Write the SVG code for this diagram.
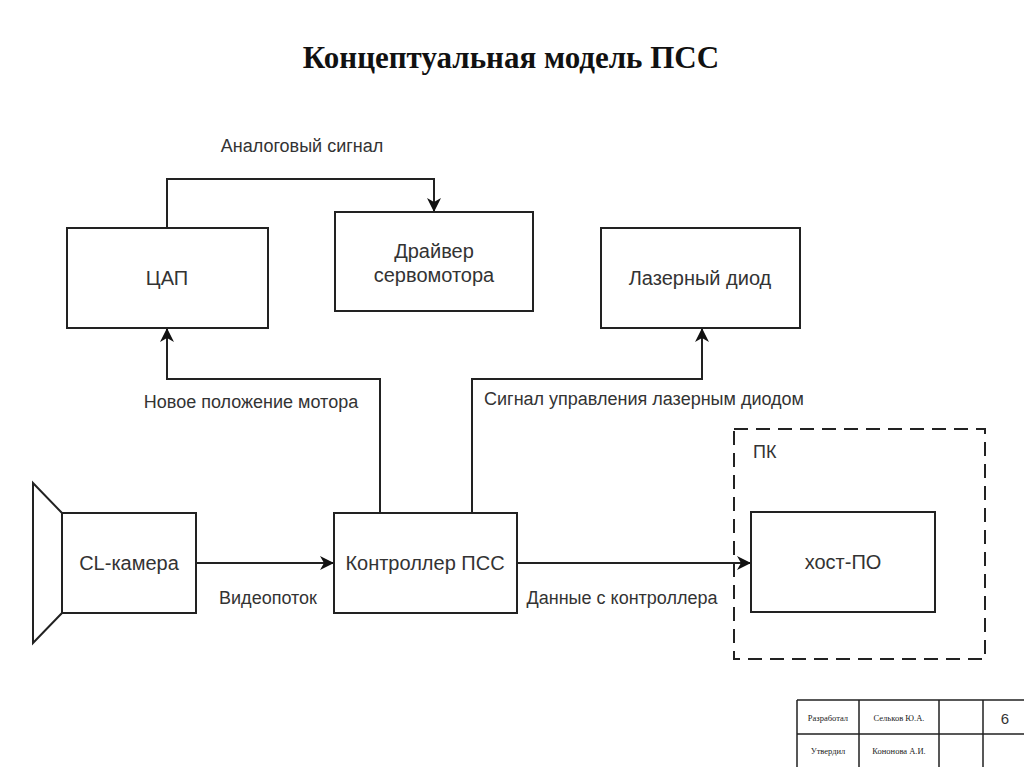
<svg xmlns="http://www.w3.org/2000/svg" width="1024" height="767" viewBox="0 0 1024 767">
<style>
.box{fill:#fff;stroke:#222;stroke-width:2}
.ln{fill:none;stroke:#222;stroke-width:2}
.t{font-family:"Liberation Sans",Arial,sans-serif;font-size:20px;fill:#333;text-anchor:middle}
.lb{font-family:"Liberation Sans",Arial,sans-serif;font-size:18px;fill:#333;text-anchor:middle}
.st{text-anchor:start}
.tb{font-family:"Liberation Serif","Times New Roman",serif;font-size:8.5px;fill:#222;text-anchor:middle}
</style>
<defs>
<marker id="ar" viewBox="0 0 14 14" refX="13" refY="7" markerWidth="14" markerHeight="14" markerUnits="userSpaceOnUse" orient="auto">
<path d="M0,0 L14,7 L0,14 L4,7 Z" fill="#111"/>
</marker>
</defs>
<rect width="1024" height="767" fill="#fff"/>
<text x="511" y="68" text-anchor="middle" font-family="Liberation Serif,'Times New Roman',serif" font-weight="bold" font-size="31" fill="#111">Концептуальная модель ПСС</text>

<g id="connectors">
<path class="ln" d="M167,228 V179 H434 V211" marker-end="url(#ar)"/>
<path class="ln" d="M380,513 V379 H167 V329" marker-end="url(#ar)"/>
<path class="ln" d="M472,513 V379 H702 V329" marker-end="url(#ar)"/>
<path class="ln" d="M196,563 H333" marker-end="url(#ar)"/>
<path class="ln" d="M517,563 H750" marker-end="url(#ar)"/>
<text class="lb" x="302" y="152">Аналоговый сигнал</text>
<text class="lb" x="251" y="408">Новое положение мотора</text>
<text class="lb" x="644" y="405">Сигнал управления лазерным диодом</text>
<text class="lb" x="268" y="604">Видеопоток</text>
<text class="lb" x="622" y="604">Данные с контроллера</text>
</g>

<g id="dac">
<rect class="box" x="67" y="228" width="201" height="100"/>
<text class="t" x="167" y="285">ЦАП</text>
</g>
<g id="driver">
<rect class="box" x="335" y="212" width="198" height="99"/>
<text class="t" x="434" y="258">Драйвер</text>
<text class="t" x="434" y="282">сервомотора</text>
</g>
<g id="laser">
<rect class="box" x="601" y="228" width="199" height="100"/>
<text class="t" x="700" y="285">Лазерный диод</text>
</g>
<g id="camera">
<path class="ln" d="M62,513 L33,483 V643 L62,613"/>
<rect class="box" x="62" y="513" width="134" height="100"/>
<text class="t" x="129" y="570">CL-камера</text>
</g>
<g id="controller">
<rect class="box" x="334" y="513" width="183" height="100"/>
<text class="t" x="425" y="570">Контроллер ПСС</text>
</g>
<g id="pc">
<rect x="734" y="429" width="251" height="230" fill="none" stroke="#222" stroke-width="2" stroke-dasharray="14 8"/>
<text class="lb st" x="753" y="458">ПК</text>
</g>
<g id="host">
<rect class="box" x="751" y="512" width="184" height="100"/>
<text class="t" x="843" y="569">хост-ПО</text>
</g>

<g id="stamp">
<path fill="none" stroke="#222" stroke-width="1.5" d="M797,700 H1024 M797,734 H1024 M797,700 V767 M859,700 V767 M939,700 V767 M983,700 V767"/>
<text class="tb" x="828" y="721">Разработал</text>
<text class="tb" x="899" y="721">Сельков Ю.А.</text>
<text x="1005" y="724" text-anchor="middle" font-family="Liberation Sans,Arial,sans-serif" font-size="15" fill="#333">6</text>
<text class="tb" x="828" y="754">Утвердил</text>
<text class="tb" x="899" y="754">Кононова А.И.</text>
</g>
</svg>
